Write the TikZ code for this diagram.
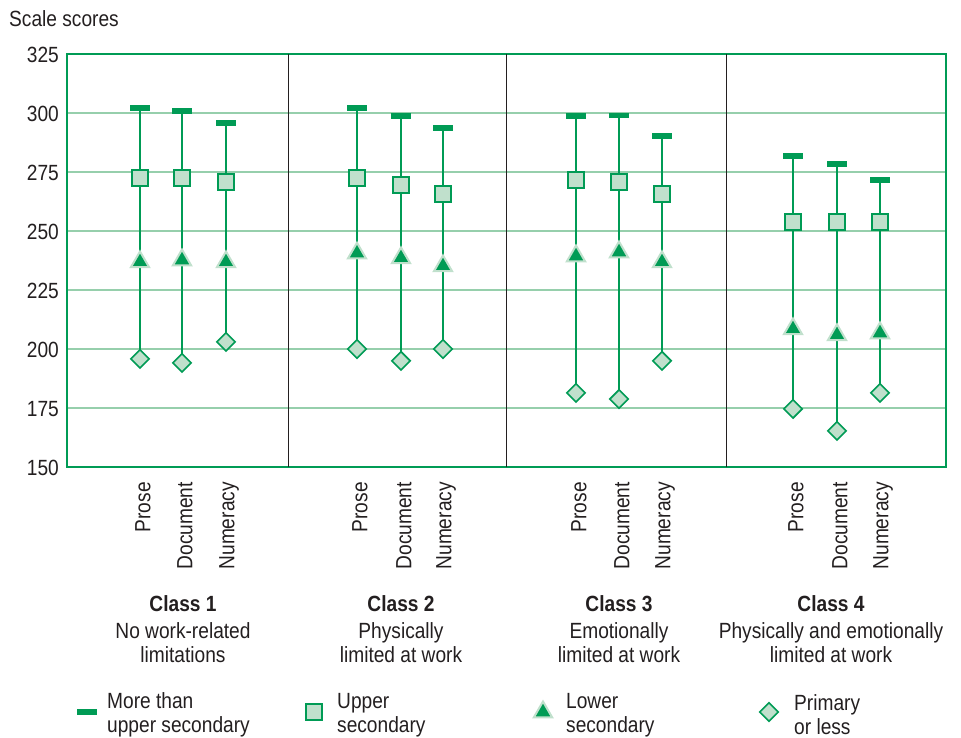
\documentclass[tikz,border=0pt]{standalone}
\usepackage{fontspec}
\setmainfont{Liberation Sans}[FakeStretch=0.87]
\usetikzlibrary{shapes.geometric,backgrounds}
\definecolor{gr}{RGB}{0,155,85}
\definecolor{grlight}{RGB}{192,224,204}
\definecolor{grid}{RGB}{150,207,172}
\definecolor{txt}{RGB}{35,31,32}
\tikzset{
  every node/.style={text=txt, font=\fontsize{22}{24}\selectfont},
  barmark/.style={rectangle, fill=gr, minimum width=20, minimum height=5.5, inner sep=0},
  sqmark/.style={rectangle, draw=gr, line width=1.8, fill=grlight, minimum size=16, inner sep=0},
  trimark/.style={regular polygon, regular polygon sides=3, fill=gr, draw=grlight, line width=2, minimum size=21, inner sep=0},
  dimark/.style={diamond, draw=gr, line width=1.6, fill=grlight, minimum size=19, inner sep=0},
  stem/.style={draw=gr, line width=2},
  gridline/.style={draw=grid, line width=1.5},
}
\begin{document}
\begin{tikzpicture}[x=1pt,y=-1pt]
\useasboundingbox (0,0) rectangle (961,738);
% grid
\begin{scope}[on background layer]
\foreach \v in {300,275,250,225,200,175} {
  \pgfmathsetmacro{\yy}{54+(325-\v)*2.36}
  \draw[gridline] (67,\yy) -- (946,\yy);
}
\end{scope}
% frame and dividers
\draw[gr, line width=2.2] (67,54) rectangle (946,467);
\foreach \xx/\n in {288/a,506/b,726/c} {
  \coordinate (dt\n) at (\xx,54);
  \coordinate (db\n) at (\xx,467);
  \draw[txt, line width=0.9] (dt\n) -- (db\n);
}
% axis labels
\node[anchor=north west, inner sep=0] (title) at (9,10) {Scale scores};
\foreach \v in {325,300,275,250,225,200,175,150} {
  \pgfmathsetmacro{\yy}{54+(325-\v)*2.36}
  \node[anchor=east, inner sep=0] (tick\v) at (59,\yy+1) {\v};
}
% data
\foreach \i/\xx/\a/\b/\c/\d/\lab in {
  1/140/302.1/272.5/237.3/195.8/Prose,
  2/182/300.8/272.5/238.1/194.1/Document,
  3/226/295.8/270.8/237.3/203.0/Numeracy,
  4/357/302.1/272.5/241.0/200.0/Prose,
  5/401/298.7/269.5/239.0/195.0/Document,
  6/443/293.6/265.7/235.6/200.0/Numeracy,
  7/576/298.7/271.6/239.8/181.4/Prose,
  8/619/299.0/270.8/241.5/178.8/Document,
  9/662/290.3/265.7/237.3/195.0/Numeracy,
  10/793/281.8/253.8/208.9/174.6/Prose,
  11/837/278.4/253.8/206.4/165.3/Document,
  12/880/271.6/253.8/207.2/181.4/Numeracy} {
  \pgfmathsetmacro{\ya}{54+(325-\a)*2.36}
  \pgfmathsetmacro{\yb}{54+(325-\b)*2.36}
  \pgfmathsetmacro{\yc}{54+(325-\c)*2.36}
  \pgfmathsetmacro{\yd}{54+(325-\d)*2.36}
  \node[barmark] (bar\i) at (\xx,\ya) {};
  \node[sqmark] (sq\i) at (\xx,\yb) {};
  \node[trimark] (tri\i) at (\xx,\yc+1) {};
  \node[dimark] (di\i) at (\xx,\yd) {};
  \begin{scope}[on background layer]
    \draw[stem] (bar\i.center) -- (di\i.center);
  \end{scope}
  \node[rotate=90, anchor=east, inner sep=0] (lab\i) at (\xx+3,482) {\lab};
}
% class labels
\foreach \i/\xx/\l/\m in {1/183/No work-related/limitations,
  2/401/Physically/limited at work,
  3/619/Emotionally/limited at work,
  4/831/Physically and emotionally/limited at work} {
  \node[font=\fontsize{22}{24}\selectfont\bfseries] (cls\i) at (\xx,604) {Class \i};
  \node[align=center, anchor=north] (desc\i) at (\xx,619) {\l\\\m};
}
% legend
\node[barmark] (lg1) at (87,712) {};
\node[anchor=west, align=left, inner sep=0] (lt1) at (107,715) {More than\\upper secondary};
\node[sqmark] (lg2) at (314,712) {};
\node[anchor=west, align=left, inner sep=0] (lt2) at (337,715) {Upper\\secondary};
\node[trimark] (lg3) at (543,712) {};
\node[anchor=west, align=left, inner sep=0] (lt3) at (566,715) {Lower\\secondary};
\node[dimark] (lg4) at (769,712) {};
\node[anchor=west, align=left, inner sep=0] (lt4) at (794,715) {Primary\\or less};
\end{tikzpicture}
\end{document}
